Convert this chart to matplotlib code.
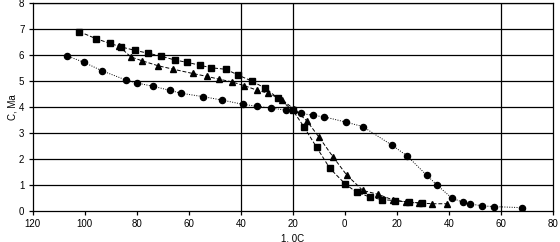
import matplotlib.pyplot as plt
from matplotlib.ticker import FuncFormatter

plt.rcParams["font.family"] = ["Liberation Sans", "DejaVu Sans"]

# squares
sq_t = [-102.1, -95.7, -90.4, -86.0, -80.7, -75.7, -70.8, -65.4, -60.8, -55.8,
        -51.4, -45.7, -41.0, -35.8, -30.5, -25.8, -20.0, -15.7, -10.8, -5.7,
        0.3, 4.6, 9.9, 14.3, 19.5, 24.8, 29.6]
sq_c = [6.90, 6.63, 6.45, 6.31, 6.18, 6.07, 5.96, 5.81, 5.72, 5.61,
        5.51, 5.45, 5.23, 5.00, 4.72, 4.35, 3.88, 3.24, 2.45, 1.64,
        1.03, 0.72, 0.53, 0.44, 0.40, 0.33, 0.30]

# triangles
tr_t = [-86.9, -82.3, -78.0, -71.9, -66.2, -58.5, -53.1, -48.3, -43.5, -38.6,
        -33.8, -29.4, -24.0, -19.4, -14.6, -9.8, -4.4, 0.8, 7.0, 12.9,
        18.7, 23.5, 28.7, 33.5, 39.2]
tr_c = [6.35, 5.93, 5.78, 5.59, 5.46, 5.29, 5.18, 5.07, 4.97, 4.82,
        4.65, 4.53, 4.27, 3.91, 3.47, 2.83, 2.07, 1.38, 0.79, 0.64,
        0.42, 0.36, 0.31, 0.28, 0.28]

# circles
ci_t = [-106.9, -100.3, -93.5, -84.2, -79.8, -73.8, -67.2, -63.0, -54.6, -47.3,
        -39.0, -33.8, -28.5, -22.6, -16.9, -12.3, -7.8, 0.4, 6.9, 18.2,
        24.0, 31.5, 35.6, 41.2, 45.6, 48.3, 52.9, 57.3, 68.0]
ci_c = [5.97, 5.72, 5.40, 5.04, 4.92, 4.80, 4.64, 4.53, 4.40, 4.27,
        4.10, 4.03, 3.96, 3.88, 3.76, 3.68, 3.62, 3.42, 3.25, 2.53,
        2.12, 1.38, 0.99, 0.50, 0.33, 0.27, 0.20, 0.17, 0.13]

x_ticks = [-120, -100, -80, -60, -40, -20, 0, 20, 40, 60, 80]
v_lines = [-40, -20, 60]

fig = plt.figure(figsize=(5.6, 2.42), dpi=100)
ax = fig.add_axes([0.0584, 0.128, 0.9286, 0.8596])

for t in v_lines:
    ax.axvline(t, color="black", lw=0.9, zorder=1)
for c in range(1, 9):
    ax.axhline(c, color="black", lw=0.9, zorder=1)

ax.plot(sq_t, sq_c, color="black", lw=0.7, ls=(0, (4, 2)), marker="s", ms=4.8, zorder=3)
ax.plot(tr_t, tr_c, color="black", lw=0.7, ls=(0, (4, 2)), marker="^", ms=5.0, zorder=3)
ax.plot(ci_t, ci_c, color="black", lw=0.7, ls=(0, (1, 1.5)), marker="o", ms=4.4, zorder=3)

ax.set_xlim(-120, 80)
ax.set_ylim(0, 8)
ax.set_xticks(x_ticks)
ax.set_yticks(range(0, 9))
ax.xaxis.set_major_formatter(FuncFormatter(lambda v, p: "%d" % abs(v)))
ax.tick_params(direction="out", length=3, width=0.9, labelsize=7, pad=3)
for s in ax.spines.values():
    s.set_linewidth(0.9)

ax.set_xlabel("1, 0C", fontsize=7, labelpad=3)
ax.set_ylabel("C, Ma", fontsize=7, labelpad=1)

fig.savefig("out.png", dpi=100)
